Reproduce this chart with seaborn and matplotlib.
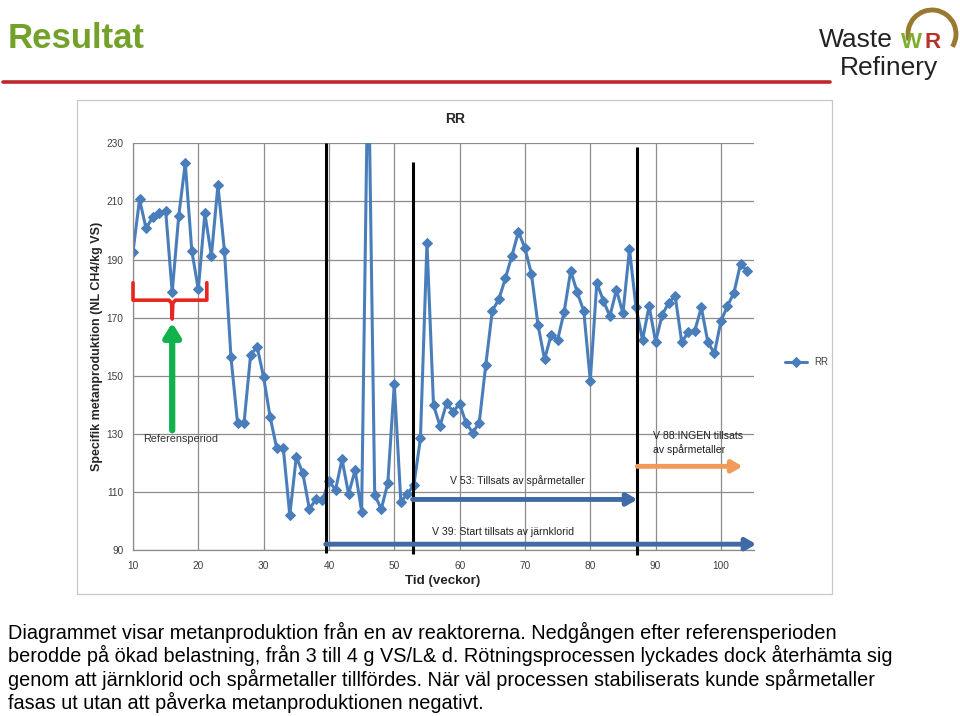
import numpy as np
import pandas as pd
import matplotlib
matplotlib.use("Agg")
import matplotlib.pyplot as plt
import seaborn as sns
from matplotlib.patches import Rectangle, Arc

# ---- data ----
weeks = list(range(10, 105))
rr_values = [
    192.7, 210.7, 200.7, 204.5, 205.9, 206.8, 178.7, 205.0, 223.1, 193.0,
    179.7, 205.9, 191.2, 215.6, 192.9, 156.3, 133.8, 133.8, 157.1, 160.0,
    149.4, 135.7, 125.0, 125.2, 102.0, 122.1, 116.4, 104.1, 107.5, 107.2,
    113.7, 110.7, 121.2, 109.3, 117.5, 103.2, 265.0, 109.0, 104.1, 112.9,
    147.1, 106.6, 109.3, 112.4, 128.4, 195.8, 139.9, 132.7, 140.5, 137.6,
    140.3, 133.6, 130.4, 133.8, 153.7, 172.3, 176.3, 183.5, 191.2, 199.6,
    193.9, 184.9, 167.5, 155.6, 164.0, 162.3, 172.0, 186.1, 178.7, 172.3,
    148.3, 182.0, 175.8, 170.5, 179.5, 171.5, 193.6, 173.5, 162.3, 174.0,
    161.7, 170.9, 175.1, 177.4, 161.5, 165.1, 165.5, 173.5, 161.5, 157.7,
    168.8, 174.0, 178.6, 188.5, 186.1,
]
x_ticks = [10, 20, 30, 40, 50, 60, 70, 80, 90, 100]
y_ticks = [90, 110, 130, 150, 170, 190, 210, 230]
event_weeks = [39.5, 52.8, 87.2]

title_text = "Resultat"
chart_title = "RR"
y_label = "Specifik metanproduktion (NL CH4/kg VS)"
x_label = "Tid (veckor)"
body_lines = [
    "Diagrammet visar metanproduktion från en av reaktorerna. Nedgången efter referensperioden",
    "berodde på ökad belastning, från 3 till 4 g VS/L& d. Rötningsprocessen lyckades dock återhämta sig",
    "genom att järnklorid och spårmetaller tillfördes. När väl processen stabiliserats kunde spårmetaller",
    "fasas ut utan att påverka metanproduktionen negativt.",
]

df = pd.DataFrame({"Vecka": weeks, "RR": rr_values})

sns.set_style("white")
plt.rcParams['font.family'] = ['Liberation Sans', 'DejaVu Sans']

W, H = 960, 716
fig = plt.figure(figsize=(9.6, 7.16), dpi=100)

def fx(px):
    return px / W

def fy(py):
    return 1 - py / H

# chart frame box
fig.patches.append(Rectangle((fx(77), fy(594)), fx(832) - fx(77), fy(100) - fy(594),
                             transform=fig.transFigure, fill=False, edgecolor='#c8c8c8', lw=0.9))

ax = fig.add_axes([fx(133), fy(550), fx(753.6) - fx(133), fy(143.3) - fy(550)])
blue = '#4a7ebb'
sns.lineplot(data=df, x="Vecka", y="RR", ax=ax, color=blue, lw=2.2, marker='D',
             markersize=5, markeredgecolor=blue, label="RR")

ax.set_xlim(10, 105)
ax.set_ylim(90, 230)
ax.set_xticks(x_ticks)
ax.set_yticks(y_ticks)
ax.grid(True, color='#8c8c8c', lw=0.9)
ax.set_axisbelow(True)
for s in ['top', 'right']:
    ax.spines[s].set_visible(False)
for s in ['left', 'bottom']:
    ax.spines[s].set_color('#8c8c8c')
    ax.spines[s].set_linewidth(0.9)
ax.tick_params(axis='both', labelsize=7.3, colors='#8c8c8c', labelcolor='#404040',
               length=4, width=0.9, direction='out')
ax.tick_params(axis='y', pad=3)
ax.tick_params(axis='x', pad=4)
ax.set_xlabel("")
ax.set_ylabel("")

leg = ax.legend(loc='center left', bbox_to_anchor=(1.045, 0.462), frameon=False,
                fontsize=7, handlelength=2.2, borderaxespad=0)
for t in leg.get_texts():
    t.set_color('#404040')

# event vertical lines
ax.vlines(event_weeks[0], 89.0, 230, color='black', lw=2.2, clip_on=False, zorder=5)
ax.vlines(event_weeks[1], 88.5, 223.6, color='black', lw=2.2, clip_on=False, zorder=5)
ax.vlines(event_weeks[2], 88.3, 228.7, color='black', lw=2.2, clip_on=False, zorder=5)

# arrows
def harrow(x0, x1, y, color):
    ax.annotate("", xy=(x1, y), xytext=(x0, y), annotation_clip=False,
                arrowprops=dict(arrowstyle='-|>,head_width=0.35,head_length=0.6',
                                color=color, lw=3.5, shrinkA=0, shrinkB=0), zorder=6)

harrow(39.5, 105.4, 92.0, '#3f6aa6')
harrow(52.8, 87.2, 107.4, '#3f6aa6')
harrow(87.2, 103.3, 118.8, '#f29a5a')

fs_ann = 7.6
ax.text(55.8, 96.3, "V 39: Start tillsats av järnklorid", fontsize=fs_ann, color='#222222', va='center')
ax.text(58.5, 113.8, "V 53: Tillsats av spårmetaller", fontsize=fs_ann, color='#222222', va='center')
ax.text(89.6, 129.3, "V 88:INGEN tillsats", fontsize=fs_ann, color='#222222', va='center')
ax.text(89.6, 124.5, "av spårmetaller", fontsize=fs_ann, color='#222222', va='center')

# red brace around reference period
bx = [10.0, 10.0, 15.5, 15.9, 16.0, 16.1, 16.5, 21.3, 21.3]
by = [182.0, 176.0, 176.0, 175.0, 169.5, 175.0, 176.0, 176.0, 182.0]
ax.plot(bx, by, color='#e8261f', lw=2.6, solid_joinstyle='round', zorder=6, clip_on=False)

# green arrow
ax.annotate("", xy=(16.0, 168.2), xytext=(16.0, 131.2), annotation_clip=False,
            arrowprops=dict(arrowstyle='-|>,head_width=0.5,head_length=0.8',
                            color='#11b14b', lw=4.5, shrinkA=0, shrinkB=0), zorder=6)
ax.text(11.6, 128.3, "Referensperiod", fontsize=7.8, color='#333333', va='center')

# chart titles
fig.text(fx(455), fy(119), chart_title, fontsize=10, fontweight='bold', ha='center', va='center')
fig.text(fx(97), fy(346), y_label, fontsize=9, fontweight='bold', rotation=90,
         ha='center', va='center')
fig.text(fx(443), fy(581), x_label, fontsize=9.6, fontweight='bold', ha='center', va='center')

# slide header
fig.text(fx(8), fy(38), title_text, fontsize=25, fontweight='bold', color='#74a12a',
         ha='left', va='center')
fig.add_artist(plt.Line2D([fx(3), fx(830)], [fy(82), fy(82)], transform=fig.transFigure,
                          color='#c0272d', lw=2.6))

# logo
fig.text(fx(819), fy(40), "Waste", fontsize=19, color='#222222', ha='left', va='center')
fig.text(fx(840), fy(68), "Refinery", fontsize=19, color='#222222', ha='left', va='center')
fig.text(fx(901), fy(42), "W", fontsize=16, fontweight='bold', color='#7fae2f', ha='left', va='center')
fig.text(fx(925), fy(42), "R", fontsize=16, fontweight='bold', color='#b8322a', ha='left', va='center')
arc = Arc((fx(932), fy(34)), fx(48), fy(0) - fy(48), theta1=-40, theta2=200,
          transform=fig.transFigure, color='#9a7a30', lw=3.5)
fig.patches.append(arc)

# body text
for i, line in enumerate(body_lines):
    fig.text(fx(8), fy(632 + i * 23.5), line, fontsize=14.3, color='black', ha='left', va='center')

fig.savefig("out.png", dpi=100)
